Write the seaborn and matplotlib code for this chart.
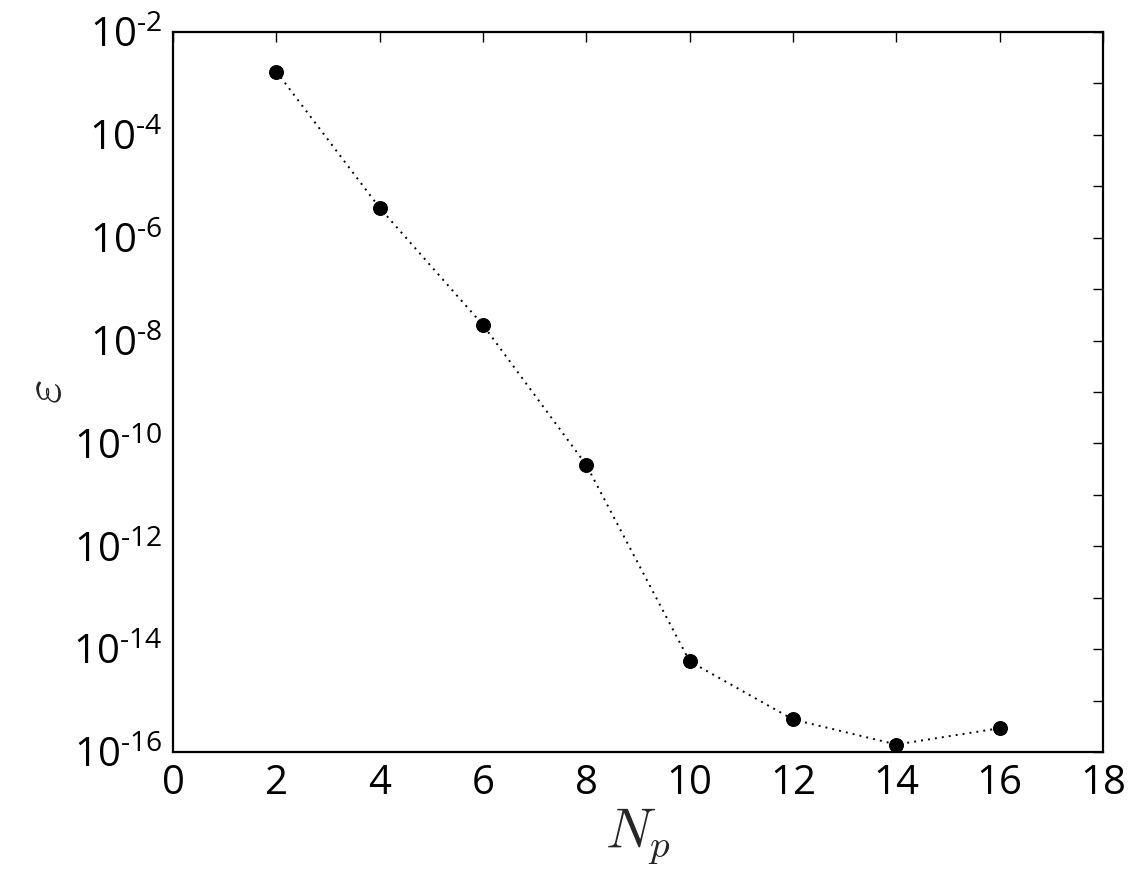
import numpy as np
import pandas as pd
import matplotlib
matplotlib.use("Agg")
import matplotlib.pyplot as plt
import seaborn as sns
from matplotlib.ticker import FixedLocator, NullLocator

# data
n_p = [2, 4, 6, 8, 10, 12, 14, 16]
eps = [1.7e-3, 3.8e-6, 2.0e-8, 3.8e-11, 5.8e-15, 4.3e-16, 1.4e-16, 2.9e-16]
xticks = [0, 2, 4, 6, 8, 10, 12, 14, 16, 18]
ydecades = list(range(-16, -1))

sns.set_style("white")
plt.rcParams["font.family"] = ["Open Sans", "DejaVu Sans"]
plt.rcParams["mathtext.fontset"] = "custom"
plt.rcParams["mathtext.rm"] = "Open Sans"
plt.rcParams["mathtext.it"] = "Open Sans:italic"

df = pd.DataFrame({"Np": n_p, "eps": eps})

fig = plt.figure(figsize=(11.4, 8.84), dpi=100)
ax = fig.add_axes([0.1518, 0.1493, 0.9675 - 0.1518, 0.9638 - 0.1493])

sns.lineplot(data=df, x="Np", y="eps", ax=ax, color="black",
             linestyle=(0, (1, 2.6)), linewidth=1.4, marker="o", markersize=10,
             markeredgecolor="black", markerfacecolor="black")

ax.set_yscale("log")
ax.set_xlim(0, 18)
ax.set_ylim(1e-16, 1e-2)

TS = 29
ax.xaxis.set_major_locator(FixedLocator(xticks))
ax.set_xticks(xticks)
ax.set_xticklabels([str(v) for v in xticks], fontsize=TS)

yt = [10.0 ** d for d in ydecades]
ax.yaxis.set_major_locator(FixedLocator(yt))
ax.yaxis.set_minor_locator(NullLocator())
ax.set_yticks(yt)
ylabels = [(r"$\mathregular{10^{\text{-}%d}}$" % (-d)) if d % 2 == 0 else ""
           for d in ydecades]
ax.set_yticklabels(ylabels, fontsize=TS)

ax.tick_params(axis="both", which="major", direction="in", length=7, width=1,
               top=True, right=True, pad=8, colors="black")
for s in ax.spines.values():
    s.set_linewidth(1.6)
    s.set_color("black")

ax.set_xlabel("$N_p$", fontsize=40, math_fontfamily="cm", labelpad=2)
ax.set_ylabel(r"$\varepsilon$", fontsize=38, math_fontfamily="cm", labelpad=-1)

fig.savefig("out.png", dpi=100)
